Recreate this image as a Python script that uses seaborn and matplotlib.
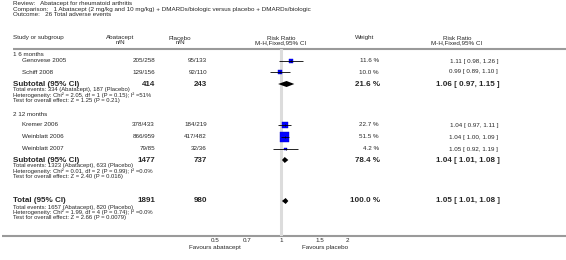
import numpy as np
import pandas as pd
import seaborn as sns
import matplotlib.pyplot as plt

# study level data
studies = ["Genovese 2005", "Schiff 2008", "Kremer 2006", "Weinblatt 2006", "Weinblatt 2007"]
abat_nN = ["205/258", "129/156", "378/433", "866/959", "79/85"]
plac_nN = ["95/133", "92/110", "184/219", "417/482", "32/36"]
rr = [1.11, 0.99, 1.04, 1.04, 1.05]
lo = [0.98, 0.89, 0.97, 1.00, 0.92]
hi = [1.26, 1.10, 1.11, 1.09, 1.19]
weight = [11.6, 10.0, 22.7, 51.5, 4.2]

# pooled results (subtotal 1, subtotal 2, total)
pooled_label = ["Subtotal (95% CI)", "Subtotal (95% CI)", "Total (95% CI)"]
pooled_abat = ["414", "1477", "1891"]
pooled_plac = ["243", "737", "980"]
pooled_rr = [1.06, 1.04, 1.05]
pooled_lo = [0.97, 1.01, 1.01]
pooled_hi = [1.15, 1.08, 1.08]
pooled_w = [21.6, 78.4, 100.0]
pooled_notes = [
    ["Total events: 334 (Abatacept), 187 (Placebo)",
     "Heterogeneity: Chi\u00b2 = 2.05, df = 1 (P = 0.15); I\u00b2 =51%",
     "Test for overall effect: Z = 1.25 (P = 0.21)"],
    ["Total events: 1323 (Abatacept), 633 (Placebo)",
     "Heterogeneity: Chi\u00b2 = 0.01, df = 2 (P = 0.99); I\u00b2 =0.0%",
     "Test for overall effect: Z = 2.40 (P = 0.016)"],
    ["Total events: 1657 (Abatacept), 820 (Placebo)",
     "Heterogeneity: Chi\u00b2 = 1.99, df = 4 (P = 0.74); I\u00b2 =0.0%",
     "Test for overall effect: Z = 2.66 (P = 0.0079)"],
]
subgroups = ["1 6 months", "2 12 months"]
xticks = [0.5, 0.7, 1, 1.5, 2]
xtick_labels = ["0.5", "0.7", "1", "1.5", "2"]

# row layout (pixel rows of the 566x260 image)
study_y = [61, 72, 125, 137, 149]
pooled_y = [84, 160, 201]
subgroup_y = [54, 114]

sns.set_style("white")
plt.rcParams['font.family'] = ['Liberation Sans', 'DejaVu Sans']
fs = 4.5
fb = 5.8

W, H = 566, 260
fig = plt.figure(figsize=(W / 100, H / 100), dpi=100)
bg = fig.add_axes([0, 0, 1, 1])
bg.set_xlim(0, W)
bg.set_ylim(H, 0)
bg.axis("off")

# header block
bg.text(13, 4, "Review:   Abatacept for rheumatoid arthritis", fontsize=fs, va="center")
bg.text(13, 9, "Comparison:   1 Abatacept (2 mg/kg and 10 mg/kg) + DMARDs/biologic versus placebo + DMARDs/biologic",
        fontsize=fs, va="center")
bg.text(13, 14, "Outcome:   26 Total adverse events", fontsize=fs, va="center")

bg.text(13, 38, "Study or subgroup", fontsize=fs, va="center")
bg.text(120, 38, "Abatacept", fontsize=fs, va="center", ha="center")
bg.text(120, 43, "n/N", fontsize=fs, va="center", ha="center")
bg.text(180, 38, "Placebo", fontsize=fs, va="center", ha="center")
bg.text(180, 43, "n/N", fontsize=fs, va="center", ha="center")
bg.text(281, 38, "Risk Ratio", fontsize=fs, va="center", ha="center")
bg.text(281, 43, "M-H,Fixed,95% CI", fontsize=fs, va="center", ha="center")
bg.text(365, 38, "Weight", fontsize=fs, va="center", ha="center")
bg.text(457, 38, "Risk Ratio", fontsize=fs, va="center", ha="center")
bg.text(457, 43, "M-H,Fixed,95% CI", fontsize=fs, va="center", ha="center")
bg.plot([13, W], [49, 49], color="#9a9a9a", lw=1.5, solid_capstyle="butt")
bg.plot([2, W], [236, 236], color="#9a9a9a", lw=1.5, solid_capstyle="butt")

for name, y in zip(subgroups, subgroup_y):
    bg.text(13, y, name, fontsize=fs, va="center")

for i, y in enumerate(study_y):
    bg.text(22, y, studies[i], fontsize=fs, va="center")
    bg.text(155, y, abat_nN[i], fontsize=fs, va="center", ha="right")
    bg.text(207, y, plac_nN[i], fontsize=fs, va="center", ha="right")
    bg.text(379, y, f"{weight[i]:.1f} %", fontsize=fs, va="center", ha="right")
    bg.text(498, y, f"{rr[i]:.2f} [ {lo[i]:.2f}, {hi[i]:.2f} ]", fontsize=fs, va="center", ha="right")

for i, y in enumerate(pooled_y):
    bg.text(13, y, pooled_label[i], fontsize=fb, va="center", fontweight="bold")
    bg.text(155, y, pooled_abat[i], fontsize=fb, va="center", ha="right", fontweight="bold")
    bg.text(207, y, pooled_plac[i], fontsize=fb, va="center", ha="right", fontweight="bold")
    bg.text(380, y, f"{pooled_w[i]:.1f} %", fontsize=fb, va="center", ha="right", fontweight="bold")
    bg.text(500, y, f"{pooled_rr[i]:.2f} [ {pooled_lo[i]:.2f}, {pooled_hi[i]:.2f} ]", fontsize=fb,
            va="center", ha="right", fontweight="bold")
    for k, line in enumerate(pooled_notes[i]):
        bg.text(13, y + 6 + 5.3 * k, line, fontsize=fs * 0.95, va="center")

bg.text(215, 248, "Favours abatacept", fontsize=fs, va="center", ha="center")
bg.text(325, 248, "Favours placebo", fontsize=fs, va="center", ha="center")

# forest plot panel
x0, x1, ytop, ybot = 215, 347, 49, 236
ax = fig.add_axes([x0 / W, 1 - ybot / H, (x1 - x0) / W, (ybot - ytop) / H])
ax.patch.set_alpha(0)
ax.set_xscale("log")
ax.set_xlim(0.5, 2)
ax.set_ylim(ybot, ytop)
ax.axvline(1, color="#dcdcdc", lw=2.2, zorder=0)

df = pd.DataFrame({"rr": rr, "y": study_y, "w": weight})
sns.scatterplot(data=df, x="rr", y="y", size="w", sizes=(0, 44), size_norm=(0, 51.5),
                marker="s", color="#0000ff", edgecolor="#0000cc", linewidth=0.3,
                legend=False, ax=ax, zorder=2, clip_on=False)
ax.hlines(study_y, lo, hi, color="black", lw=0.6, zorder=3)
ax.vlines(rr, np.array(study_y) - 1.2, np.array(study_y) + 1.2, color="black", lw=0.5, zorder=3)

h = 3.0
for i, y in enumerate(pooled_y):
    ax.fill([pooled_lo[i], pooled_rr[i], pooled_hi[i], pooled_rr[i]],
            [y, y - h, y, y + h], color="black", lw=0, zorder=3)

ax.set_xticks(xticks)
ax.set_xticklabels(xtick_labels)
ax.minorticks_off()
ax.tick_params(axis="x", direction="in", length=2, width=0.5, color="black",
               labelsize=fs, pad=1.5)
ax.set_yticks([])
ax.set_xlabel("")
ax.set_ylabel("")
for s in ax.spines.values():
    s.set_visible(False)

fig.savefig("out.png", dpi=100)
